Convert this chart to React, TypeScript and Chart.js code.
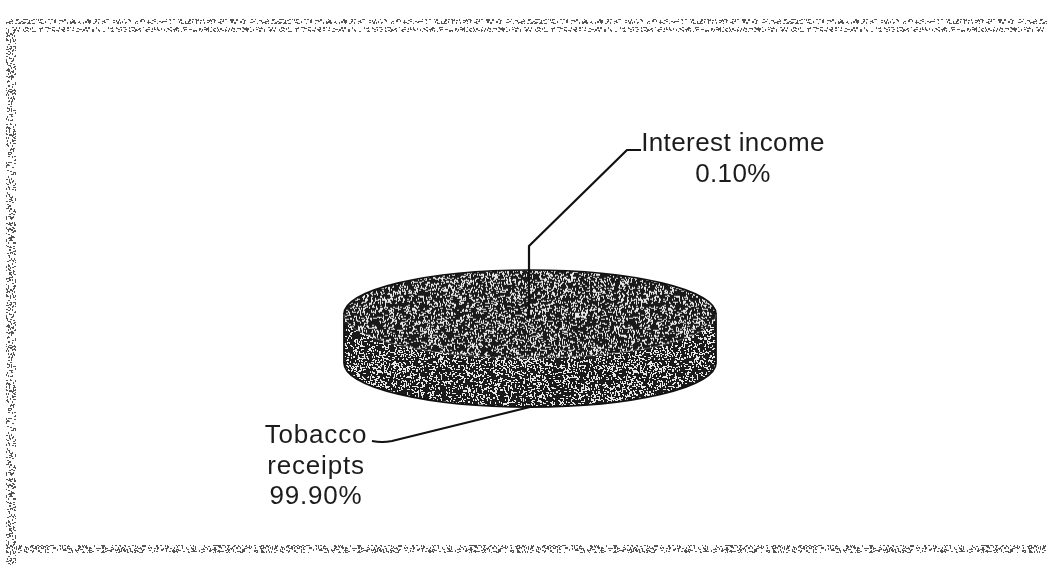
import React, { useEffect, useRef } from "react";
import { Chart, registerables } from "chart.js";

Chart.register(...registerables);

const labelLines = [["Tobacco", "receipts"], ["Interest income"]];
const seriesValues = [99.9, 0.1];

const SQUASH = 44 / 186;
const DEPTH = 49;

function noisePattern(ctx: CanvasRenderingContext2D, base: string | null, speck: string, density: number, seed: number) {
  const size = 256;
  const c = document.createElement("canvas");
  c.width = size;
  c.height = size;
  const g = c.getContext("2d")!;
  if (base) {
    g.fillStyle = base;
    g.fillRect(0, 0, size, size);
  }
  let s = seed >>> 0;
  const next = () => {
    s = (Math.imul(s, 1664525) + 1013904223) >>> 0;
    return s / 4294967296;
  };
  g.fillStyle = speck;
  for (let y = 0; y < size; y++) {
    for (let x = 0; x < size; x++) {
      if (next() < density) {
        const horizontal = next() < 0.5;
        g.fillRect(x, y, horizontal ? 2 : 1, horizontal ? 1 : 2);
      }
    }
  }
  const soft = document.createElement("canvas");
  soft.width = size;
  soft.height = size;
  const h = soft.getContext("2d")!;
  h.filter = "blur(0.45px)";
  h.drawImage(c, 0, 0);
  return ctx.createPattern(soft, "repeat")!;
}

const depthPie = {
  id: "depthPie",
  beforeDatasetDraw(chart: any) {
    const { ctx } = chart;
    const first = chart.getDatasetMeta(0).data[0];
    const cx = first.x;
    const cy = first.y;
    const r = first.outerRadius;
    // Wall of the pie, from the geometry of the library's arc
    ctx.save();
    ctx.beginPath();
    ctx.moveTo(cx - r, cy);
    ctx.lineTo(cx - r, cy + DEPTH);
    ctx.ellipse(cx, cy + DEPTH, r, r * SQUASH, 0, Math.PI, 0, true);
    ctx.lineTo(cx + r, cy);
    ctx.closePath();
    ctx.fillStyle = chart.$wallFill;
    ctx.fill();
    ctx.strokeStyle = "#111111";
    ctx.lineWidth = 1.8;
    ctx.stroke();
    ctx.restore();

    ctx.save();
    ctx.translate(cx, cy);
    ctx.scale(1, SQUASH);
    ctx.translate(-cx, -cy);
  },
  afterDatasetDraw(chart: any) {
    const { ctx } = chart;
    ctx.restore();
    const first = chart.getDatasetMeta(0).data[0];
    const cx = first.x;
    const cy = first.y;
    const r = first.outerRadius;
    ctx.save();
    ctx.strokeStyle = "#111111";
    ctx.lineWidth = 1.6;
    ctx.beginPath();
    ctx.ellipse(cx, cy, r, r * SQUASH, 0, Math.PI, Math.PI * 2);
    ctx.stroke();
    ctx.strokeStyle = "rgba(255,255,255,0.2)";
    ctx.lineWidth = 1.2;
    ctx.beginPath();
    ctx.ellipse(cx, cy, r, r * SQUASH, 0, 0, Math.PI);
    ctx.stroke();
    ctx.restore();
  },
};

const frame = {
  id: "frame",
  beforeDraw(chart: any) {
    const { ctx, width, height } = chart;
    ctx.save();
    ctx.fillStyle = "#ffffff";
    ctx.fillRect(0, 0, width, height);
    ctx.fillStyle = noisePattern(ctx, null, "#555555", 0.16, 77);
    ctx.fillRect(6, 19, width - 6, 5);
    ctx.fillRect(6, 27, width - 6, 5);
    ctx.fillRect(6, 32, 10, height - 34);
    ctx.fillRect(6, 545, width - 6, 8);
    ctx.restore();
  },
};

const leaders = {
  id: "leaders",
  afterDraw(chart: any) {
    const { ctx } = chart;
    ctx.save();
    ctx.strokeStyle = "#111111";
    ctx.lineWidth = 2.2;
    ctx.lineJoin = "round";
    ctx.beginPath();
    ctx.moveTo(529, 318);
    ctx.lineTo(529, 246);
    ctx.lineTo(627, 150);
    ctx.lineTo(641, 150);
    ctx.stroke();
    ctx.beginPath();
    ctx.moveTo(530, 407);
    ctx.lineTo(392, 441);
    ctx.quadraticCurveTo(382, 443, 372, 441);
    ctx.stroke();

    ctx.fillStyle = "#1c1c1c";
    ctx.font = '26px "Liberation Sans", Arial, sans-serif';
    ctx.textAlign = "center";
    ctx.textBaseline = "alphabetic";
    const fmt = (v: number) => v.toFixed(2) + "%";
    (ctx as any).letterSpacing = "0.4px";
    ctx.fillText(labelLines[1][0], 733, 151);
    ctx.fillText(fmt(seriesValues[1]), 733, 182);
    (ctx as any).letterSpacing = "0.8px";
    ctx.fillText(labelLines[0][0], 316, 443);
    ctx.fillText(labelLines[0][1], 316, 474);
    ctx.fillText(fmt(seriesValues[0]), 316, 504);
    ctx.restore();
  },
};

export default function App() {
  const ref = useRef<HTMLCanvasElement>(null);
  useEffect(() => {
    document.body.style.margin = "0";
    const canvas = ref.current!;
    const ctx = canvas.getContext("2d")!;
    const fill = noisePattern(ctx, "#1a1a1a", "#e8e8e8", 0.17, 12345);
    const wall = noisePattern(ctx, "#1a1a1a", "#e8e8e8", 0.17, 54321);
    fill.setTransform(new DOMMatrix().scale(1, 1 / SQUASH));
    const chart: any = new Chart(canvas, {
      type: "pie",
      data: {
        labels: labelLines.map((l) => l.join(" ")),
        datasets: [
          {
            data: seriesValues,
            backgroundColor: [fill, fill],
            borderWidth: 0,
          },
        ],
      },
      options: {
        responsive: false,
        animation: false,
        events: [],
        rotation: -0.2,
        layout: { padding: { left: 344, right: 331, top: 128, bottom: 67 } },
        plugins: { legend: { display: false }, tooltip: { enabled: false } },
      },
      plugins: [
        {
          id: "wallFill",
          beforeDraw(c: any) {
            c.$wallFill = wall;
          },
        },
        frame,
        depthPie,
        leaders,
      ],
    });
    return () => chart.destroy();
  }, []);
  return <canvas ref={ref} width={1047} height={567} style={{ display: "block" }} />;
}
